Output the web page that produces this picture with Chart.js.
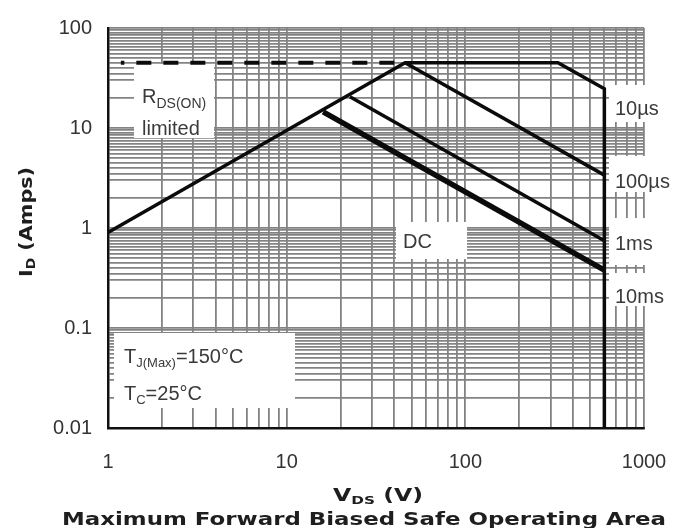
<!DOCTYPE html>
<html>
<head>
<meta charset="utf-8">
<script src="https://cdn.jsdelivr.net/npm/chart.js@4.4.0/dist/chart.umd.min.js"></script>
<style>
  html, body { margin: 0; padding: 0; background: #fff; }
  #wrap { width: 689px; height: 528px; }
</style>
</head>
<body>
<div id="wrap"><canvas id="soaChart" width="689" height="528"></canvas></div>
<script>
// axis ticks
const vdsMajor = [1, 10, 100, 1000];
const vdsTickLabels = ['1', '10', '100', '1000'];
const idMajor = [0.01, 0.1, 1, 10, 100];
const idTickLabels = ['0.01', '0.1', '1', '10', '100'];
const vdsMinorSteps = [2, 3, 4, 5, 6, 7, 8, 9];
const idMinorSteps = [2, 3, 3.5, 4, 4.5, 5, 5.5, 6, 6.5, 7, 7.5, 8, 8.5, 9, 9.5];

// SOA curves (V_DS in volts, I_D in amps)
const vdsRdsLimit = [1.18, 46];
const idRdsLimit = [45, 45];
const vds10us = [1, 46, 330, 600, 600];
const id10us = [0.9, 45, 45, 24.7, 0.01];
const vds100us = [46, 600];
const id100us = [45, 3.38];
const vds1ms = [22.6, 600];
const id1ms = [20.5, 0.746];
const vdsDC = [16, 600];
const idDC = [14.5, 0.379];

const curveLabels = ['10\u00b5s', '100\u00b5s', '1ms', '10ms'];

const SANS = "'Liberation Sans', Arial, sans-serif";
const WIDE = "'DejaVu Sans', Verdana, sans-serif";

function pts(xs, ys) {
    return xs.map((x, i) => ({ x: x, y: ys[i] }));
}

function logTicks(majors, steps) {
    const out = [];
    majors.forEach((m, i) => {
        out.push(m);
        if (i < majors.length - 1) steps.forEach(s => out.push(m * s));
    });
    return out;
}

function majorLabel(value, majors, labels) {
    const k = majors.findIndex(m => Math.abs(value / m - 1) < 1e-6);
    return k >= 0 ? labels[k] : '';
}

// draws text made of pieces (for subscripts), optional horizontal fit
function drawRich(ctx, parts, x, y, align, fitWidth) {
    let total = 0;
    parts.forEach(p => {
        ctx.font = p.font;
        p.w = ctx.measureText(p.text).width;
        total += p.w;
    });
    const sx = fitWidth ? fitWidth / total : 1;
    ctx.save();
    ctx.translate(x, y);
    ctx.scale(sx, 1);
    let cx = align === 'center' ? -total / 2 : 0;
    parts.forEach(p => {
        ctx.font = p.font;
        ctx.fillText(p.text, cx, p.dy || 0);
        cx += p.w;
    });
    ctx.restore();
}

// white boxes behind the in-plot labels (canvas pixels)
const labelBoxes = [
    [134, 64, 80, 74],
    [396, 222, 71, 37],
    [114, 333, 181, 75],
    [609, 85, 60, 37],
    [609, 156, 70, 36],
    [609, 218, 50, 47],
    [609, 273, 60, 33]
];

const annotations = {
    id: 'soaAnnotations',
    beforeDatasetsDraw(chart) {
        const ctx = chart.ctx;
        ctx.save();
        ctx.fillStyle = '#ffffff';
        labelBoxes.forEach(b => ctx.fillRect(b[0], b[1], b[2], b[3]));
        ctx.restore();
    },
    afterDatasetsDraw(chart) {
        const ctx = chart.ctx;
        const f = (s, w) => (w || '') + ' ' + s + 'px ' + SANS;
        ctx.save();
        ctx.fillStyle = '#3a3a3a';
        ctx.textBaseline = 'alphabetic';

        drawRich(ctx, [
            { text: 'R', font: f(20) },
            { text: 'DS(ON)', font: f(14), dy: 5 }
        ], 142, 103, 'left');
        drawRich(ctx, [{ text: 'limited', font: f(20) }], 142, 135, 'left');
        drawRich(ctx, [{ text: 'DC', font: f(20) }], 403, 248, 'left');
        drawRich(ctx, [
            { text: 'T', font: f(20) },
            { text: 'J(Max)', font: f(13), dy: 4 },
            { text: '=150\u00b0C', font: f(20) }
        ], 124, 363, 'left');
        drawRich(ctx, [
            { text: 'T', font: f(20) },
            { text: 'C', font: f(13), dy: 4 },
            { text: '=25\u00b0C', font: f(20) }
        ], 124, 400, 'left');

        const labelY = [115, 188, 250, 303];
        curveLabels.forEach((t, i) => {
            drawRich(ctx, [{ text: t, font: f(20) }], 615, labelY[i], 'left');
        });

        // axis titles and caption
        ctx.fillStyle = '#1e1e1e';
        const b = (s) => 'bold ' + s + 'px ' + WIDE;
        drawRich(ctx, [
            { text: 'V', font: b(17) },
            { text: 'DS', font: b(11), dy: 3 },
            { text: ' (V)', font: b(17) }
        ], 378, 501, 'center', 90);
        drawRich(ctx, [
            { text: 'Maximum Forward Biased Safe Operating Area', font: b(18) }
        ], 364, 525, 'center', 604);

        ctx.translate(25, 222);
        ctx.rotate(-Math.PI / 2);
        drawRich(ctx, [
            { text: 'I', font: b(18) },
            { text: 'D', font: b(12), dy: 3 },
            { text: ' (Amps)', font: b(18) }
        ], 0, 7, 'center', 110);
        ctx.restore();
    }
};

const gridColor = '#838383';
const lineColor = '#0b0b0b';

const ctx = document.getElementById('soaChart').getContext('2d');
const soaChart = new Chart(ctx, {
    type: 'line',
    data: {
        datasets: [{
            label: 'RDS(on) limit',
            data: pts(vdsRdsLimit, idRdsLimit),
            borderColor: lineColor,
            borderWidth: 4,
            borderDash: [15, 12],
            borderDashOffset: 11.5
        }, {
            label: '10us',
            data: pts(vds10us, id10us),
            borderColor: lineColor,
            borderWidth: 3.5
        }, {
            label: '100us',
            data: pts(vds100us, id100us),
            borderColor: lineColor,
            borderWidth: 3.5
        }, {
            label: '1ms',
            data: pts(vds1ms, id1ms),
            borderColor: lineColor,
            borderWidth: 3.5
        }, {
            label: 'DC',
            data: pts(vdsDC, idDC),
            borderColor: lineColor,
            borderWidth: 5.5
        }]
    },
    options: {
        responsive: false,
        devicePixelRatio: 1,
        animation: false,
        elements: {
            point: { radius: 0 },
            line: { tension: 0, borderJoinStyle: 'miter', borderCapStyle: 'butt' }
        },
        layout: {
            padding: { top: 20, right: 45, left: 0, bottom: 0 }
        },
        plugins: {
            legend: { display: false },
            tooltip: { enabled: false }
        },
        scales: {
            x: {
                type: 'logarithmic',
                min: 1,
                max: 1000,
                afterBuildTicks: function (axis) {
                    axis.ticks = logTicks(vdsMajor, vdsMinorSteps).map(v => ({ value: v }));
                },
                afterFit: function (scale) {
                    scale.height = 100;
                },
                ticks: {
                    autoSkip: false,
                    maxRotation: 0,
                    padding: 22,
                    color: '#333',
                    font: { family: SANS, size: 20 },
                    callback: function (value) {
                        return majorLabel(value, vdsMajor, vdsTickLabels);
                    }
                },
                grid: { color: gridColor, lineWidth: 1.8, drawTicks: false },
                border: { color: '#111', width: 2.5 }
            },
            y: {
                type: 'logarithmic',
                min: 0.01,
                max: 100,
                afterBuildTicks: function (axis) {
                    axis.ticks = logTicks(idMajor, idMinorSteps).map(v => ({ value: v }));
                },
                afterFit: function (scale) {
                    scale.width = 108;
                },
                ticks: {
                    autoSkip: false,
                    padding: 16,
                    color: '#333',
                    font: { family: SANS, size: 20 },
                    callback: function (value) {
                        return majorLabel(value, idMajor, idTickLabels);
                    }
                },
                grid: { color: gridColor, lineWidth: 1.8, drawTicks: false },
                border: { color: '#111', width: 2.5 }
            }
        }
    },
    plugins: [annotations]
});
</script>
</body>
</html>
